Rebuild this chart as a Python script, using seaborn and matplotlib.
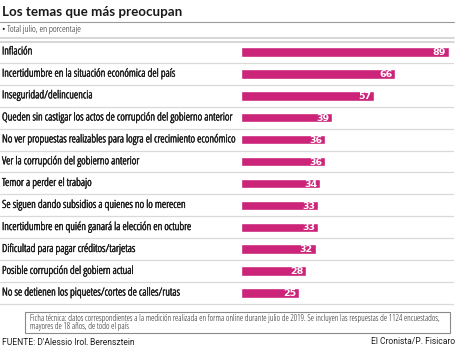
import matplotlib
matplotlib.use("Agg")
import matplotlib.pyplot as plt
import matplotlib.transforms as mtransforms
import matplotlib.patheffects as pe
import seaborn as sns
import pandas as pd

categories = [
    "Inflación",
    "Incertidumbre en la situación económica del país",
    "Inseguridad/delincuencia",
    "Queden sin castigar los actos de corrupción del gobierno anterior",
    "No ver propuestas realizables para logra el crecimiento económico",
    "Ver la corrupción del gobierno anterior",
    "Temor a perder el trabajo",
    "Se siguen dando subsidios a quienes no lo merecen",
    "Incertidumbre en quién ganará la elección en octubre",
    "Dificultad para pagar créditos/tarjetas",
    "Posible corrupción del gobiern actual",
    "No se detienen los piquetes/cortes de calles/rutas",
]
values = [89, 66, 57, 39, 36, 36, 34, 33, 33, 32, 28, 25]

title = "Los temas que más preocupan"
subtitle = "• Total julio, en porcentaje"
note_lines = ["Ficha técnica: datos correspondientes a la medición realizada en forma online durante julio de 2019. "
              "Se incluyen las respuestas de 1124 encuestados,",
              "mayores de 18 años, de todo el país"]
source = "FUENTE: D'Alessio Irol, Berensztein"
credit = "El Cronista/P. Fisicaro"

sns.set_theme(style="white")
plt.rcParams["font.family"] = ["DejaVu Sans"]

W, H = 460, 345
fig = plt.figure(figsize=(4.6, 3.45), dpi=100)
fig.patch.set_facecolor("white")
renderer = fig.canvas.get_renderer()


def fx(px):
    return px / W


def fy(py):
    return 1 - py / H


def width_at(text, size, **kw):
    t = fig.text(0, 0, text, fontsize=size, **kw)
    w = t.get_window_extent(renderer).width
    t.remove()
    return w


def fit(text, target, candidates, ref=10.0, weight="normal"):
    best = None
    for fam, stretch in candidates:
        kw = dict(family=[fam, "DejaVu Sans"], fontstretch=stretch)
        size = ref * target / width_at(text, ref, fontweight=weight, **kw)
        if best is None or size > best[0]:
            best = (size, kw)
    return best


label_cands = [("DejaVu Sans", "condensed"), ("Liberation Sans Narrow", "normal"),
               ("Liberation Sans", "normal"), ("Roboto", "normal"), ("Lato", "normal"),
               ("Open Sans", "condensed"), ("Noto Sans", "condensed")]
longest = max(categories, key=lambda s: width_at(s, 10))
lab_size, lab_kw = fit(longest, 235, label_cands)

# bar axes: x from 241 to 453 px, y from 41 to 304 px
ax_left, ax_right = 241, 453
ax_top, ax_bot = 41.0, 304.0
ax = fig.add_axes([fx(ax_left), fy(ax_bot), fx(ax_right - ax_left), (ax_bot - ax_top) / H])
df = pd.DataFrame({"cat": categories, "val": values})
bar_color = "#cc2479"
sns.barplot(data=df, x="val", y="cat", orient="h", color=bar_color, width=0.43,
            saturation=1, ax=ax)
ax.set_xlim(0, (ax_right - ax_left) / 2.337)
ax.set_ylim(len(categories) - 0.5, -0.5)
ax.axis("off")

text_color = "#1e1e1e"
bolden = [pe.withStroke(linewidth=0.35, foreground=text_color)]
blend = mtransforms.blended_transform_factory(fig.transFigure, ax.transData)
for i, (c, v) in enumerate(zip(categories, values)):
    ax.text(fx(2), i, c, transform=blend, ha="left", va="center",
            fontsize=lab_size, color=text_color, path_effects=bolden, **lab_kw)
    ax.text(v - 1.3, i + 0.03, str(v), ha="right", va="center", fontsize=6.8,
            fontweight="bold", color="white", family=["DejaVu Sans"])
    ax.plot([0, fx(453)], [i + 0.5, i + 0.5], transform=blend, color="#d9d9d9",
            lw=0.9, clip_on=False)

# header
t_size, t_kw = fit(title, 180, [("Lato", "normal"), ("Open Sans", "normal"),
                                ("Roboto", "normal")], ref=10, weight="bold")
t_size = min(t_size, 11)
fig.text(fx(2), fy(12), title, ha="left", va="center", fontsize=t_size,
         fontweight="bold", color="#1a1a1a", family=["Lato", "DejaVu Sans"])
fig.lines.append(plt.Line2D([0, fx(454)], [fy(22), fy(22)], transform=fig.transFigure,
                            color="#9a9a9a", lw=0.8))
s_size, s_kw = fit(subtitle, 80, label_cands)
fig.text(fx(2), fy(30), subtitle, ha="left", va="center", fontsize=s_size,
         color=text_color, **s_kw)
for yy in (38, 41.5):
    fig.lines.append(plt.Line2D([0, fx(454)], [fy(yy), fy(yy)], transform=fig.transFigure,
                                color="#cfcfcf", lw=1.2))

# note box
box = plt.Rectangle((fx(25), fy(333)), fx(450 - 25), (333 - 312) / H,
                    transform=fig.transFigure, fill=False, edgecolor="#8a8a8a", lw=0.8)
fig.patches.append(box)
n_size, n_kw = fit(note_lines[0], 413, label_cands)
fig.text(fx(30), fy(318.5), note_lines[0], ha="left", va="center", fontsize=n_size,
         color=text_color, **n_kw)
fig.text(fx(30), fy(326.5), note_lines[1], ha="left", va="center", fontsize=n_size,
         color=text_color, **n_kw)

# footer
f_size, f_kw = fit(source, 133, [("Liberation Sans", "normal"), ("Roboto", "normal"),
                                 ("Lato", "normal"), ("DejaVu Sans", "condensed")])
f_size = min(f_size, 6.4)
fig.text(fx(2), fy(344.3), source, ha="left", va="baseline", fontsize=f_size,
         color=text_color, **f_kw)
fig.text(fx(455), fy(344.3), credit, ha="right", va="baseline", fontsize=f_size,
         color=text_color, **f_kw)

fig.savefig("out.png", dpi=100, facecolor="white")
